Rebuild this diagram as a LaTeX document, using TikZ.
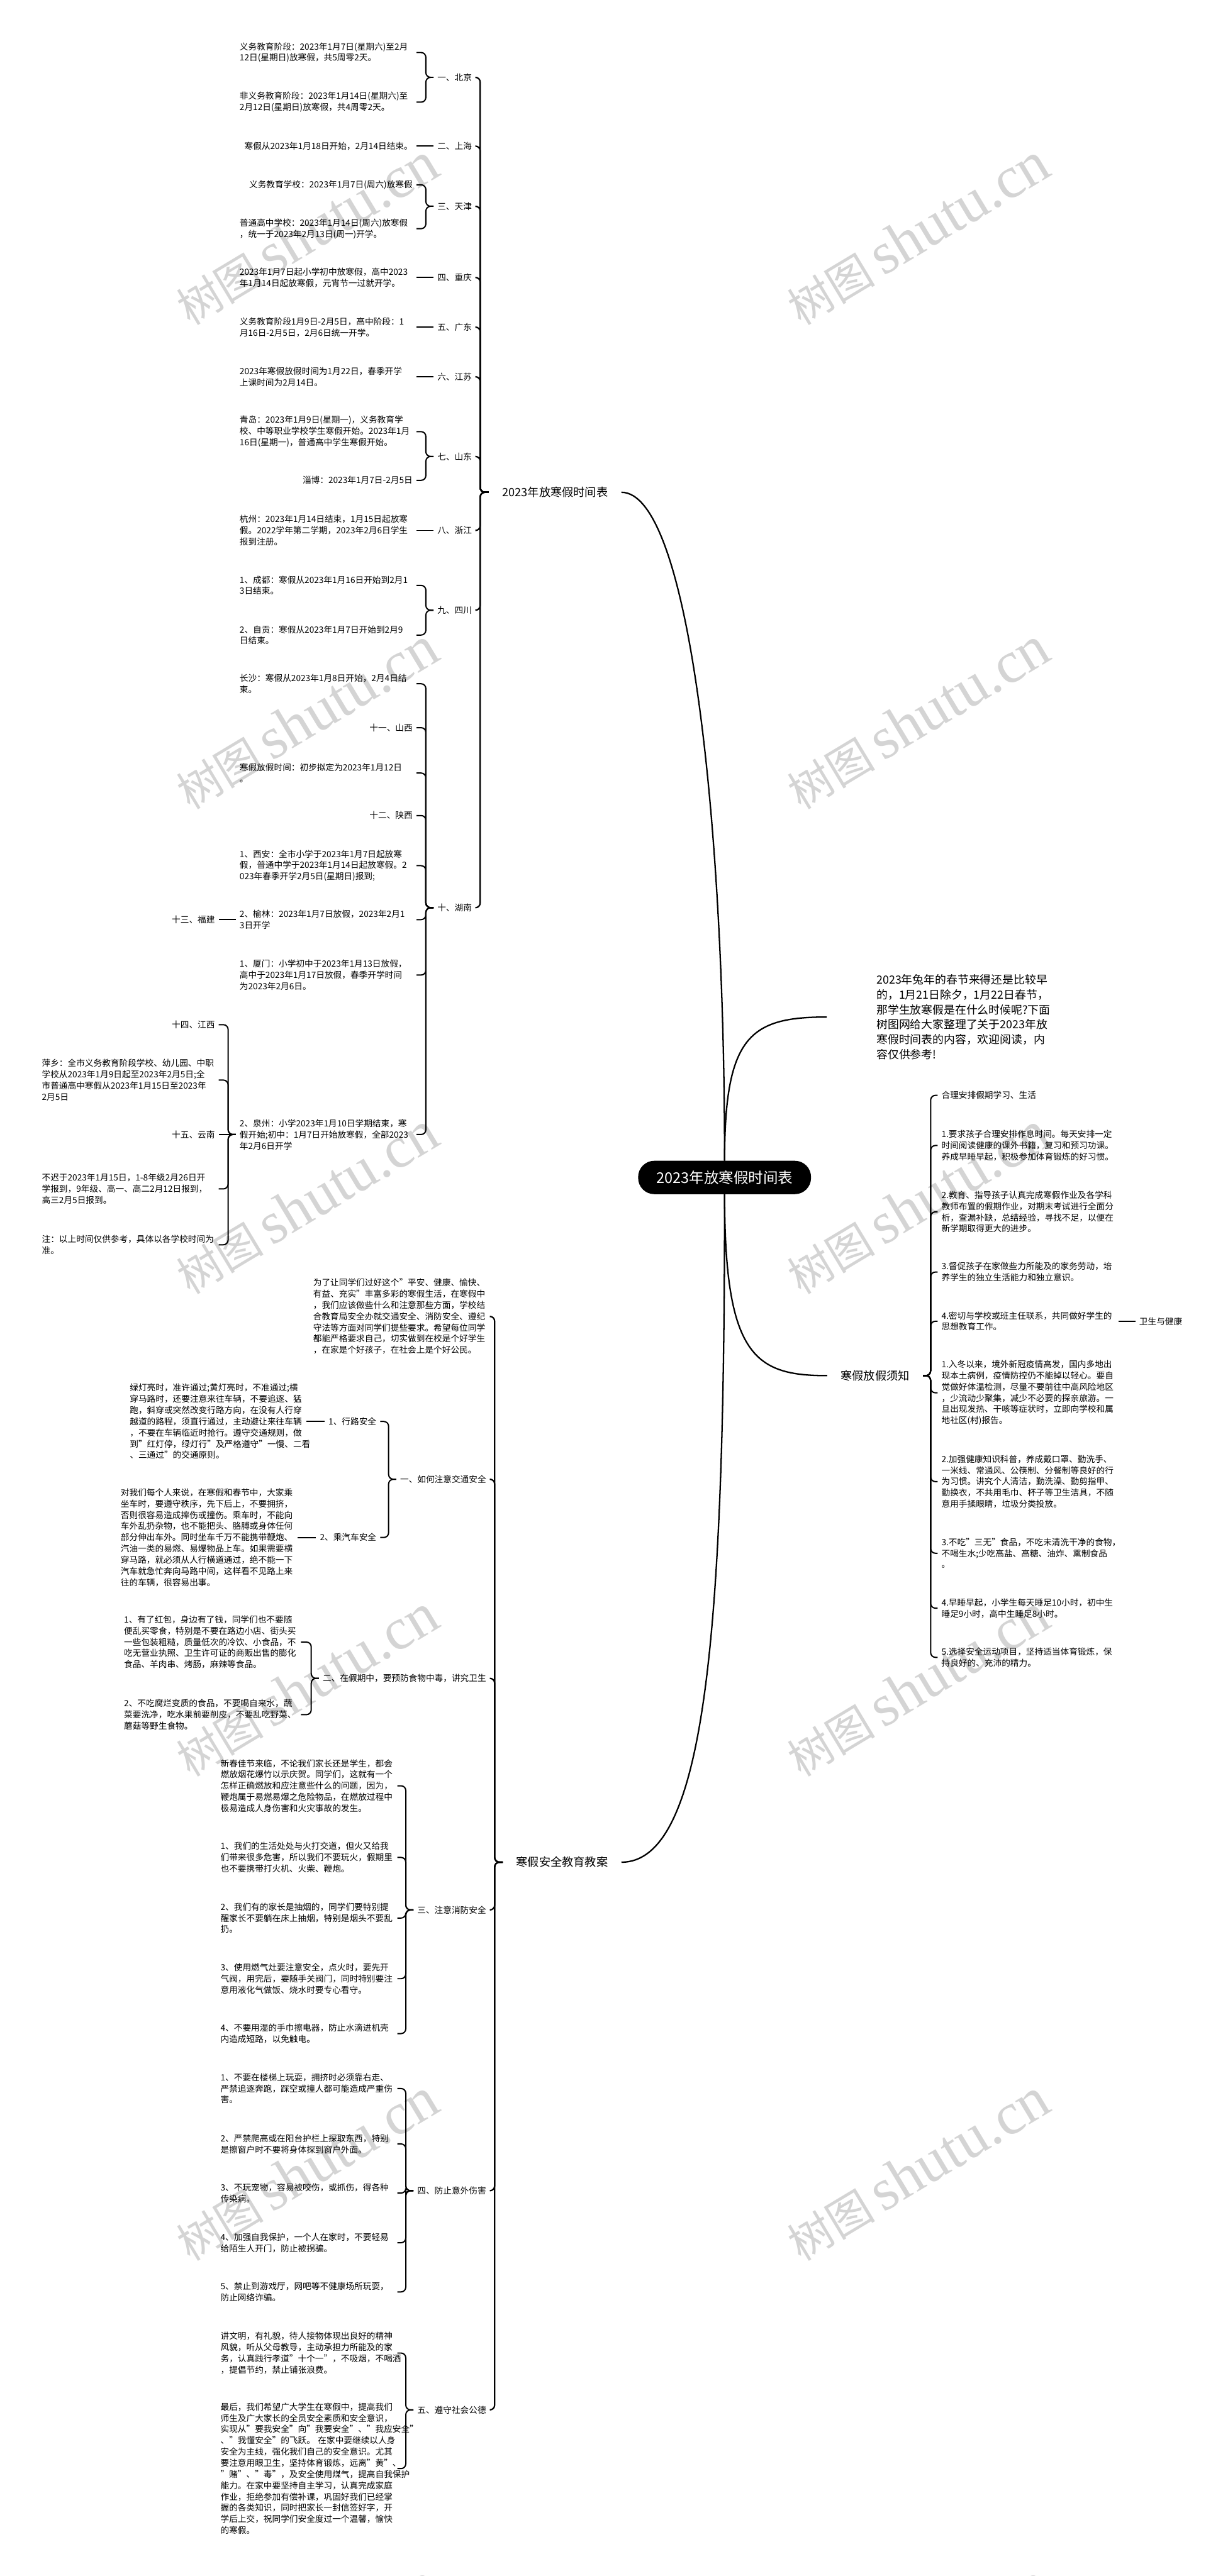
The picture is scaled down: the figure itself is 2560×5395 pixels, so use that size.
\documentclass[tikz,border=0pt]{standalone}
\usepackage{fontspec}
\setmainfont{Noto Sans CJK SC}
\newfontfamily\wmlatin{Liberation Serif}
\usepackage{tikz}
\definecolor{markgray}{RGB}{212,212,212}

\begin{document}
\begin{tikzpicture}[x=1pt, y=-1pt,
  link/.style={line width=2.6pt, rounded corners=10pt},
  mainlink/.style={line width=2.9pt, rounded corners=10pt},
  rootlink/.style={line width=3pt},
  root/.style={fill=black, text=white, rounded corners=34pt, minimum width=362pt, minimum height=70pt, font=\fontsize{31}{36}\selectfont},
  topic/.style={font=\fontsize{24}{30}\selectfont, inner xsep=28pt},
  tag/.style={font=\fontsize{18}{23.5}\selectfont, inner xsep=8pt, inner ysep=2pt},
  para/.style={tag, text width=362pt, align=left},
  blurb/.style={font=\fontsize{23.5}{31.5}\selectfont, align=left, inner xsep=104pt},
  wmark/.style={text=markgray, rotate=31, inner sep=0pt}]
  \useasboundingbox (0,0) rectangle (2560,5395);
  \fill[white] (0,0) rectangle (2560,5395);

  \foreach \wy [count=\i] in {490,1505,2520,3530,4545,5560} {
    \node[wmark] (wl\i) at (642,\wy) {{\fontsize{92}{92}\selectfont 树图}\hspace{16pt}{\wmlatin\fontsize{124}{124}\selectfont shutu.cn}};
    \node[wmark] (wr\i) at (1922,\wy) {{\fontsize{92}{92}\selectfont 树图}\hspace{16pt}{\wmlatin\fontsize{124}{124}\selectfont shutu.cn}};
  }

  \node[root] (root) at (1517,2466) {2023年放寒假时间表};
  \node[topic, anchor=east] (plan) at (1301,1031) {2023年放寒假时间表};
  \node[blurb, anchor=west] (blurb) at (1731,2130) {2023年兔年的春节来得还是比较早\\的，1月21日除夕，1月22日春节，\\那学生放寒假是在什么时候呢?下面\\树图网给大家整理了关于2023年放\\寒假时间表的内容，欢迎阅读，内\\容仅供参考!};
  \node[topic, anchor=west] (notice) at (1732,2881) {寒假放假须知};
  \node[topic, anchor=east] (safety) at (1301,3900) {寒假安全教育教案};

  \node[tag, anchor=east] (bj) at (996,162) {一、北京};
  \node[para, anchor=east] (bj1) at (872,110) {义务教育阶段：2023年1月7日(星期六)至2月\\12日(星期日)放寒假，共5周零2天。};
  \node[para, anchor=east] (bj2) at (872,214) {非义务教育阶段：2023年1月14日(星期六)至\\2月12日(星期日)放寒假，共4周零2天。};
  \node[tag, anchor=east] (sh) at (996,306) {二、上海};
  \node[tag, anchor=east] (sh1) at (872,306) {寒假从2023年1月18日开始，2月14日结束。};
  \node[tag, anchor=east] (tj) at (996,432) {三、天津};
  \node[tag, anchor=east] (tj1) at (872,387) {义务教育学校：2023年1月7日(周六)放寒假};
  \node[para, anchor=east] (tj2) at (872,479) {普通高中学校：2023年1月14日(周六)放寒假\\，统一于2023年2月13日(周一)开学。};
  \node[tag, anchor=east] (cq) at (996,581) {四、重庆};
  \node[para, anchor=east] (cq1) at (872,581) {2023年1月7日起小学初中放寒假，高中2023\\年1月14日起放寒假，元宵节一过就开学。};
  \node[tag, anchor=east] (gd) at (996,685) {五、广东};
  \node[para, anchor=east] (gd1) at (872,685) {义务教育阶段1月9日-2月5日，高中阶段：1\\月16日-2月5日，2月6日统一开学。};
  \node[tag, anchor=east] (js) at (996,789) {六、江苏};
  \node[para, anchor=east] (js1) at (872,789) {2023年寒假放假时间为1月22日，春季开学\\上课时间为2月14日。};
  \node[tag, anchor=east] (sd) at (996,956) {七、山东};
  \node[para, anchor=east] (sd1) at (872,904) {青岛：2023年1月9日(星期一)，义务教育学\\校、中等职业学校学生寒假开始。2023年1月\\16日(星期一)，普通高中学生寒假开始。};
  \node[tag, anchor=east] (sd2) at (872,1006) {淄博：2023年1月7日-2月5日};
  \node[tag, anchor=east] (zj) at (996,1111) {八、浙江};
  \node[para, anchor=east] (zj1) at (872,1111) {杭州：2023年1月14日结束，1月15日起放寒\\假。2022学年第二学期，2023年2月6日学生\\报到注册。};
  \node[tag, anchor=east] (sc) at (996,1278) {九、四川};
  \node[para, anchor=east] (sc1) at (872,1226) {1、成都：寒假从2023年1月16日开始到2月1\\3日结束。};
  \node[para, anchor=east] (sc2) at (872,1330) {2、自贡：寒假从2023年1月7日开始到2月9\\日结束。};
  \node[tag, anchor=east] (hn) at (996,1901) {十、湖南};
  \node[para, anchor=east] (hn1) at (872,1432) {长沙：寒假从2023年1月8日开始，2月4日结\\束。};
  \node[tag, anchor=east] (sx) at (872,1524) {十一、山西};
  \node[para, anchor=east] (hn2) at (872,1619) {寒假放假时间：初步拟定为2023年1月12日\\。};
  \node[tag, anchor=east] (shx) at (872,1708) {十二、陕西};
  \node[para, anchor=east] (xa) at (872,1813) {1、西安：全市小学于2023年1月7日起放寒\\假，普通中学于2023年1月14日起放寒假。2\\023年春季开学2月5日(星期日)报到;};
  \node[para, anchor=east] (yl) at (872,1926) {2、榆林：2023年1月7日放假，2023年2月1\\3日开学};
  \node[para, anchor=east] (xm) at (872,2042) {1、厦门：小学初中于2023年1月13日放假，\\高中于2023年1月17日放假，春季开学时间\\为2023年2月6日。};
  \node[para, anchor=east] (qz) at (872,2376) {2、泉州：小学2023年1月10日学期结束，寒\\假开始;初中：1月7日开始放寒假，全部2023\\年2月6日开学};
  \node[tag, anchor=east] (fj) at (458,1926) {十三、福建};
  \node[tag, anchor=east] (jx) at (458,2146) {十四、江西};
  \node[para, anchor=east] (px) at (458,2262) {萍乡：全市义务教育阶段学校、幼儿园、中职\\学校从2023年1月9日起至2023年2月5日;全\\市普通高中寒假从2023年1月15日至2023年\\2月5日};
  \node[tag, anchor=east] (yn) at (458,2376) {十五、云南};
  \node[para, anchor=east] (bc) at (458,2490) {不迟于2023年1月15日，1-8年级2月26日开\\学报到，9年级、高一、高二2月12日报到，\\高三2月5日报到。};
  \node[para, anchor=east] (note) at (458,2607) {注：以上时间仅供参考，具体以各学校时间为\\准。};

  \node[para, anchor=east] (sf0) at (1026,2757) {为了让同学们过好这个"平安、健康、愉快、\\有益、充实"丰富多彩的寒假生活，在寒假中\\，我们应该做些什么和注意那些方面，学校结\\合教育局安全办就交通安全、消防安全、遵纪\\守法等方面对同学们提些要求。希望每位同学\\都能严格要求自己，切实做到在校是个好学生\\，在家是个好孩子，在社会上是个好公民。};
  \node[tag, anchor=east] (tr) at (1026,3098) {一、如何注意交通安全};
  \node[tag, anchor=east] (tr1) at (796,2977) {1、行路安全};
  \node[tag, anchor=east] (tr2) at (796,3220) {2、乘汽车安全};
  \node[para, anchor=east] (tr1a) at (642,2977) {绿灯亮时，准许通过;黄灯亮时，不准通过;横\\穿马路时，还要注意来往车辆，不要追逐、猛\\跑，斜穿或突然改变行路方向，在没有人行穿\\越道的路程，须直行通过，主动避让来往车辆\\，不要在车辆临近时抢行。遵守交通规则，做\\到"红灯停，绿灯行"及严格遵守"一慢、二看\\、三通过"的交通原则。};
  \node[para, anchor=east] (tr2a) at (623,3220) {对我们每个人来说，在寒假和春节中，大家乘\\坐车时，要遵守秩序，先下后上，不要拥挤，\\否则很容易造成摔伤或撞伤。乘车时，不能向\\车外乱扔杂物，也不能把头、胳膊或身体任何\\部分伸出车外。同时坐车千万不能携带鞭炮、\\汽油一类的易燃、易爆物品上车。如果需要横\\穿马路，就必须从人行横道通过，绝不能一下\\汽车就急忙奔向马路中间，这样看不见路上来\\往的车辆，很容易出事。};
  \node[tag, anchor=east] (fd) at (1026,3515) {二、在假期中，要预防食物中毒，讲究卫生};
  \node[para, anchor=east] (fd1) at (630,3439) {1、有了红包，身边有了钱，同学们也不要随\\便乱买零食，特别是不要在路边小店、街头买\\一些包装粗糙，质量低次的冷饮、小食品，不\\吃无营业执照、卫生许可证的商贩出售的膨化\\食品、羊肉串、烤肠，麻辣等食品。};
  \node[para, anchor=east] (fd2) at (630,3591) {2、不吃腐烂变质的食品，不要喝自来水，蔬\\菜要洗净，吃水果前要削皮，不要乱吃野菜、\\蘑菇等野生食物。};
  \node[tag, anchor=east] (fire) at (1026,4000) {三、注意消防安全};
  \node[para, anchor=east] (fire0) at (832,3740) {新春佳节来临，不论我们家长还是学生，都会\\燃放烟花爆竹以示庆贺。同学们，这就有一个\\怎样正确燃放和应注意些什么的问题，因为，\\鞭炮属于易燃易爆之危险物品，在燃放过程中\\极易造成人身伤害和火灾事故的发生。};
  \node[para, anchor=east] (fire1) at (832,3890) {1、我们的生活处处与火打交道，但火又给我\\们带来很多危害，所以我们不要玩火，假期里\\也不要携带打火机、火柴、鞭炮。};
  \node[para, anchor=east] (fire2) at (832,4017) {2、我们有的家长是抽烟的，同学们要特别提\\醒家长不要躺在床上抽烟，特别是烟头不要乱\\扔。};
  \node[para, anchor=east] (fire3) at (832,4144) {3、使用燃气灶要注意安全，点火时，要先开\\气阀，用完后，要随手关阀门，同时特别要注\\意用液化气做饭、烧水时要专心看守。};
  \node[para, anchor=east] (fire4) at (832,4259) {4、不要用湿的手巾擦电器，防止水滴进机壳\\内造成短路，以免触电。};
  \node[tag, anchor=east] (acc) at (1026,4588) {四、防止意外伤害};
  \node[para, anchor=east] (acc1) at (832,4374) {1、不要在楼梯上玩耍，拥挤时必须靠右走、\\严禁追逐奔跑，踩空或撞人都可能造成严重伤\\害。};
  \node[para, anchor=east] (acc2) at (832,4490) {2、严禁爬高或在阳台护栏上探取东西，特别\\是擦窗户时不要将身体探到窗户外面。};
  \node[para, anchor=east] (acc3) at (832,4593) {3、不玩宠物，容易被咬伤，或抓伤，得各种\\传染病。};
  \node[para, anchor=east] (acc4) at (832,4697) {4、加强自我保护，一个人在家时，不要轻易\\给陌生人开门，防止被拐骗。};
  \node[para, anchor=east] (acc5) at (832,4800) {5、禁止到游戏厅，网吧等不健康场所玩耍，\\防止网络诈骗。};
  \node[tag, anchor=east] (eth) at (1026,5047) {五、遵守社会公德};
  \node[para, anchor=east] (eth1) at (832,4928) {讲文明，有礼貌，待人接物体现出良好的精神\\风貌，听从父母教导，主动承担力所能及的家\\务，认真践行孝道"十个一"，不吸烟，不喝酒\\，提倡节约，禁止铺张浪费。};
  \node[para, anchor=east] (eth2) at (832,5170) {最后，我们希望广大学生在寒假中，提高我们\\师生及广大家长的全员安全素质和安全意识，\\实现从"要我安全"向"我要安全"、"我应安全"\\、"我懂安全"的飞跃。~在家中要继续以人身\\安全为主线，强化我们自己的安全意识。尤其\\要注意用眼卫生，坚持体育锻炼，远离"黄"、\\"赌"、"毒"，及安全使用煤气，提高自我保护\\能力。在家中要坚持自主学习，认真完成家庭\\作业，拒绝参加有偿补课，巩固好我们已经掌\\握的各类知识，同时把家长一封信签好字，开\\学后上交，祝同学们安全度过一个温馨，愉快\\的寒假。};

  \node[tag, anchor=west] (nt0) at (1963,2294) {合理安排假期学习、生活};
  \node[para, anchor=west] (nt1) at (1963,2399) {1.要求孩子合理安排作息时间。每天安排一定\\时间阅读健康的课外书籍，复习和预习功课。\\养成早睡早起，积极参加体育锻炼的好习惯。};
  \node[para, anchor=west] (nt2) at (1963,2538) {2.教育、指导孩子认真完成寒假作业及各学科\\教师布置的假期作业，对期末考试进行全面分\\析，查漏补缺，总结经验，寻找不足，以便在\\新学期取得更大的进步。};
  \node[para, anchor=west] (nt3) at (1963,2664) {3.督促孩子在家做些力所能及的家务劳动，培\\养学生的独立生活能力和独立意识。};
  \node[para, anchor=west] (nt4) at (1963,2767) {4.密切与学校或班主任联系，共同做好学生的\\思想教育工作。};
  \node[tag, anchor=west] (hy) at (2377,2767) {卫生与健康};
  \node[para, anchor=west] (nt5) at (1963,2917) {1.入冬以来，境外新冠疫情高发，国内多地出\\现本土病例，疫情防控仍不能掉以轻心。要自\\觉做好体温检测，尽量不要前往中高风险地区\\，少流动少聚集，减少不必要的探亲旅游。一\\旦出现发热、干咳等症状时，立即向学校和属\\地社区(村)报告。};
  \node[para, anchor=west] (nt6) at (1963,3103) {2.加强健康知识科普，养成戴口罩、勤洗手、\\一米线、常通风、公筷制、分餐制等良好的行\\为习惯。讲究个人清洁，勤洗澡、勤剪指甲、\\勤换衣，不共用毛巾、杯子等卫生洁具，不随\\意用手揉眼睛，垃圾分类投放。};
  \node[para, anchor=west] (nt7) at (1963,3253) {3.不吃"三无"食品，不吃未清洗干净的食物，\\不喝生水;少吃高盐、高糖、油炸、熏制食品\\。};
  \node[para, anchor=west] (nt8) at (1963,3368) {4.早睡早起，小学生每天睡足10小时，初中生\\睡足9小时，高中生睡足8小时。};
  \node[para, anchor=west] (nt9) at (1963,3471) {5.选择安全运动项目，坚持适当体育锻炼，保\\持良好的、充沛的精力。};

  \draw[rootlink] (root.north) .. controls (1517,1700) and (1440,1031) .. (plan.east);
  \draw[rootlink] (root.north) .. controls (1517,2170) and (1570,2130) .. (blurb.west);
  \draw[rootlink] (root.south) .. controls (1517,2840) and (1580,2881) .. (notice.west);
  \draw[rootlink] (root.south) .. controls (1517,3400) and (1480,3900) .. (safety.east);

  \foreach \c in {bj,sh,tj,cq,gd,js,sd,zj,sc,hn}
    \draw[mainlink] (plan.west) -- ++(-18,0) |- (\c.east);
  \foreach \c in {sf0,tr,fd,fire,acc,eth}
    \draw[mainlink] (safety.west) -- ++(-17,0) |- (\c.east);
  \foreach \c in {nt0,nt1,nt2,nt3,nt4,nt5,nt6,nt7,nt8,nt9}
    \draw[link] (notice.east) -- ++(16,0) |- (\c.west);

  \foreach \p/\c in {bj/bj1,bj/bj2,tj/tj1,tj/tj2,sd/sd1,sd/sd2,sc/sc1,sc/sc2,hn/hn1,hn/sx,hn/hn2,hn/shx,hn/xa,hn/yl,hn/xm,hn/qz,qz/jx,qz/px,qz/bc,qz/note,tr/tr1,tr/tr2,fd/fd1,fd/fd2,fire/fire0,fire/fire1,fire/fire2,fire/fire3,fire/fire4,acc/acc1,acc/acc2,acc/acc3,acc/acc4,acc/acc5,eth/eth1,eth/eth2}
    \draw[link] (\p.west) -- ++(-16,0) |- (\c.east);
  \foreach \p/\c in {sh/sh1,cq/cq1,gd/gd1,js/js1,zj/zj1,yl/fj,qz/yn,tr1/tr1a,tr2/tr2a}
    \draw[link] (\p.west) -- (\c.east);
  \draw[link] (nt4.east) -- (hy.west);
\end{tikzpicture}
\end{document}
